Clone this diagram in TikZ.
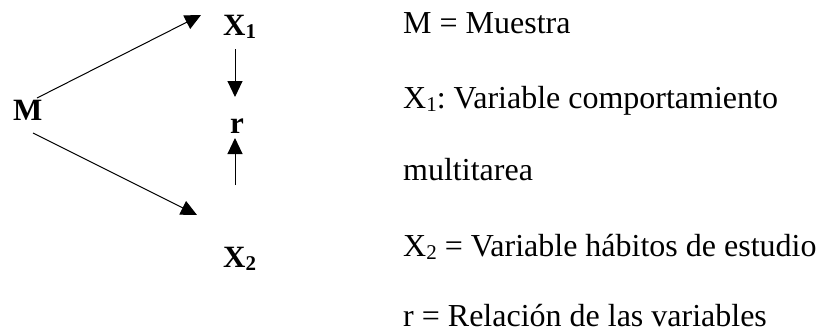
\documentclass[tikz,border=0pt]{standalone}
\usepackage{fontspec}
\setmainfont{Liberation Serif}
\usetikzlibrary{arrows.meta}
\frenchspacing
\newcommand\mysubs[1]{\raisebox{-0.1em}{\fontsize{21}{21}\selectfont #1}}
\begin{document}
\begin{tikzpicture}[x=1pt,y=-1pt,
  txt/.style={anchor=base west,inner sep=0pt,font=\fontsize{32}{32}\selectfont},
  lbl/.style={anchor=base west,inner sep=0pt,font=\fontsize{31}{31}\selectfont\bfseries},
  arr/.style={line width=1pt,-{Triangle[length=16pt,width=15pt]}}]
\useasboundingbox (0,0) rectangle (820,333);
% diagram labels
\node[lbl] (M) at (13,120) {M};
\node[lbl] (X1) at (223,35) {X\mysubs{1}};
\node[lbl] (r) at (230,133) {r};
\node[lbl] (X2) at (223,267) {X\mysubs{2}};
% connector ends
\coordinate (mA) at (37,98);
\coordinate (mB) at (33,133);
\coordinate (x1in) at (201,15);
\coordinate (x2in) at (197,215);
\coordinate (x1out) at (235,49);
\coordinate (rtop) at (235,97);
\coordinate (x2out) at (235,185);
\coordinate (rbot) at (235,138);
\draw[arr] (mA) -- (x1in);
\draw[arr] (mB) -- (x2in);
\draw[arr] (x1out) -- (rtop);
\draw[arr] (x2out) -- (rbot);
% legend
\node[txt] (t1) at (403,33) {M = Muestra};
\node[txt] (t2) at (403,108) {X\mysubs{1}: Variable comportamiento};
\node[txt] (t3) at (403,180) {multitarea};
\node[txt] (t4) at (403,256) {X\mysubs{2} = Variable hábitos de estudio};
\node[txt] (t5) at (403,326) {r = Relación de las variables};
\end{tikzpicture}
\end{document}
